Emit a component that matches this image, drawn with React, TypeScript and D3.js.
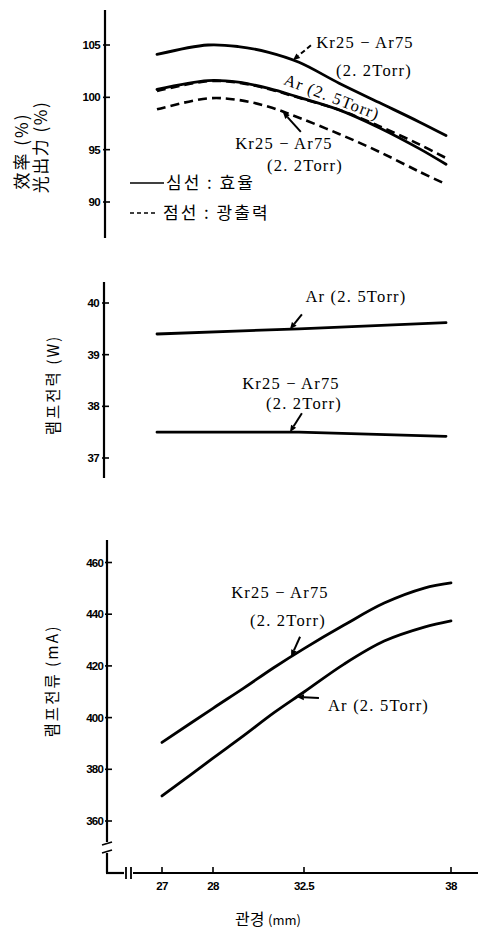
import React from 'react';
import * as d3 from 'd3';

// ---------- data ----------
const xTicks = [27, 28, 32.5, 38];
const xTickLabels = ['27', '28', '32.5', '38'];

// tube diameter samples (mm)
const sampleX = [27, 28, 29.5, 31, 32.5, 34, 35.5, 37, 38];

// top panel: efficiency (solid) and light output (dashed), %
const effKr = [104.1, 105.0, 104.85, 104.3, 103.35, 101.35, 99.5, 97.65, 96.35];
const effAr = [100.75, 101.6, 101.45, 100.85, 100.0, 98.8, 97.1, 95.1, 93.6];
const lightAr = [100.6, 101.55, 101.4, 100.8, 99.95, 98.8, 97.25, 95.5, 94.2];
const lightKr = [98.85, 99.9, 99.75, 99.1, 98.05, 96.5, 94.8, 92.9, 91.7];
const topTicks = [90, 95, 100, 105];

// middle panel: lamp power (W)
const powerX = [27, 32.5, 38];
const powerAr = [39.4, 39.5, 39.62];
const powerKr = [37.5, 37.5, 37.42];
const midTicks = [37, 38, 39, 40];

// bottom panel: lamp current (mA)
const currentKr = [390.4, 403.6, 411.3, 419.3, 426.7, 435.8, 444.3, 450.1, 452.1];
const currentAr = [369.7, 384.3, 392.9, 401.8, 409.9, 420.7, 429.6, 435.0, 437.4];
const botTicks = [360, 380, 400, 420, 440, 460];

// ---------- styles ----------
const SERIF = "'Liberation Serif', 'Times New Roman', serif";
const KR = "'Noto Sans CJK KR', 'Noto Sans CJK JP', sans-serif";
const TICK = "'Liberation Sans', 'DejaVu Sans', sans-serif";

function interp(xs: number[], ys: number[], x: number) {
  for (let i = 0; i < xs.length - 1; i++) {
    if (x >= xs[i] && x <= xs[i + 1]) {
      const t = (x - xs[i]) / (xs[i + 1] - xs[i]);
      return ys[i] + t * (ys[i + 1] - ys[i]);
    }
  }
  return ys[ys.length - 1];
}

function Arrow({ tip, dx, dy, dash }: { tip: [number, number]; dx: number; dy: number; dash?: string }) {
  const [tx, ty] = tip;
  const sx = tx + dx, sy = ty + dy;
  const ang = Math.atan2(ty - sy, tx - sx);
  const L = 7, Wd = 3;
  const bx = tx - L * Math.cos(ang), by = ty - L * Math.sin(ang);
  const px = -Math.sin(ang) * Wd, py = Math.cos(ang) * Wd;
  return (
    <g>
      <line x1={sx} y1={sy} x2={bx} y2={by} stroke="#000" strokeWidth={2} strokeDasharray={dash} />
      <polygon points={`${tx},${ty} ${bx + px},${by + py} ${bx - px},${by - py}`} fill="#000" />
    </g>
  );
}

function YAxis({ x, y0, y1, scale, ticks }: { x: number; y0: number; y1: number; scale: d3.ScaleLinear<number, number>; ticks: number[] }) {
  return (
    <g>
      <line x1={x} y1={y0} x2={x} y2={y1} stroke="#000" strokeWidth={2.2} />
      {ticks.map((t) => (
        <g key={t}>
          <line x1={x - 2} x2={x + 5} y1={scale(t)} y2={scale(t)} stroke="#000" strokeWidth={1.6} />
          <text x={x - 5} y={scale(t) + 4} textAnchor="end" fontFamily={TICK} fontWeight="bold" fontSize={11.5} letterSpacing={-0.6}>
            {t}
          </text>
        </g>
      ))}
    </g>
  );
}

export default function App() {
  const xBot = d3.scaleLinear().domain(xTicks).range([162, 213, 304, 451]);
  const xUp = d3.scaleLinear().domain(xTicks).range([157, 208, 299, 446]);

  const yTop = d3.scaleLinear().domain([90, 105]).range([202, 45]);
  const yMid = d3.scaleLinear().domain([37, 40]).range([458, 303]);
  const yBot = d3.scaleLinear().domain([360, 460]).range([821, 562.5]);

  const mkLine = (xs: number[], x: any, y: any, curve: any) =>
    d3.line<number>().x((_, i) => x(xs[i])).y((d) => y(d)).curve(curve);

  const smooth = d3.curveCatmullRom.alpha(0.5);
  const topLine = mkLine(sampleX, xUp, yTop, smooth);
  const midLine = mkLine(powerX, xUp, yMid, d3.curveLinear);
  const botLine = mkLine(sampleX, xBot, yBot, smooth);

  const solid = { fill: 'none', stroke: '#000', strokeWidth: 2.8, strokeLinecap: 'round' as const };
  const dashed = { ...solid, strokeWidth: 2.6, strokeDasharray: '9,5', strokeLinecap: 'butt' as const };

  const tipTopKr: [number, number] = [xUp(32.2), yTop(interp(sampleX, effKr, 32.2))];
  const tipTopKrD: [number, number] = [xUp(31.7), yTop(interp(sampleX, lightKr, 31.7))];
  const tipMidAr: [number, number] = [xUp(32.05), yMid(interp(powerX, powerAr, 32.05))];
  const tipMidKr: [number, number] = [xUp(32.05), yMid(interp(powerX, powerKr, 32.05))];
  const tipBotKr: [number, number] = [xBot(31.86), yBot(interp(sampleX, currentKr, 31.86))];
  const tipBotAr: [number, number] = [xBot(32.15), yBot(interp(sampleX, currentAr, 32.15))];

  const annot = { fontFamily: SERIF, fontSize: 16.5, letterSpacing: 1.2 };

  return (
    <svg width={484} height={930} style={{ position: 'absolute', left: 0, top: 0, background: '#fff' }}>
      <rect width={484} height={930} fill="#fff" />

      {/* ===== top panel ===== */}
      <YAxis x={105} y0={10} y1={238} scale={yTop} ticks={topTicks} />
      <text transform="translate(28,151) rotate(-90)" textAnchor="middle" fontFamily={KR} fontSize={17} letterSpacing={2}>
        效率 (%)
      </text>
      <text transform="translate(47,147) rotate(-90)" textAnchor="middle" fontFamily={KR} fontSize={17} letterSpacing={1.5}>
        光出力 (%)
      </text>

      <path d={topLine(effKr) || ''} {...solid} />
      <path d={topLine(effAr) || ''} {...solid} />
      <path d={topLine(lightAr) || ''} {...dashed} />
      <path d={topLine(lightKr) || ''} {...dashed} />

      <text x={365} y={48} textAnchor="middle" {...annot}>Kr25 − Ar75</text>
      <text x={374} y={76} textAnchor="middle" {...annot}>(2. 2Torr)</text>
      <Arrow tip={tipTopKr} dx={18} dy={-15} dash="5,3" />

      <text transform="translate(330,102) rotate(21)" textAnchor="middle" {...annot}>Ar (2. 5Torr)</text>

      <text x={284} y={149} textAnchor="middle" {...annot}>Kr25 − Ar75</text>
      <text x={305} y={171} textAnchor="middle" {...annot}>(2. 2Torr)</text>
      <Arrow tip={tipTopKrD} dx={18} dy={20} />

      {/* legend */}
      <line x1={130} x2={164} y1={183} y2={183} stroke="#000" strokeWidth={1.6} />
      <text x={166} y={189} fontFamily={KR} fontSize={17} letterSpacing={2}>심선 : 효율</text>
      <line x1={130} x2={155} y1={213} y2={213} stroke="#000" strokeWidth={1.6} strokeDasharray="4,3" />
      <text x={163} y={219} fontFamily={KR} fontSize={17} letterSpacing={2}>점선 : 광출력</text>

      {/* ===== middle panel ===== */}
      <YAxis x={104} y0={282} y1={478} scale={yMid} ticks={midTicks} />
      <text transform="translate(59,385) rotate(-90)" textAnchor="middle" fontFamily={KR} fontSize={15.5} letterSpacing={2}>
        램프전력 (W)
      </text>
      <path d={midLine(powerAr) || ''} {...solid} />
      <path d={midLine(powerKr) || ''} {...solid} />

      <text x={356} y={302} textAnchor="middle" {...annot}>Ar (2. 5Torr)</text>
      <Arrow tip={tipMidAr} dx={12} dy={-15} />
      <text x={291} y={389} textAnchor="middle" {...annot}>Kr25 − Ar75</text>
      <text x={304} y={409} textAnchor="middle" {...annot}>(2. 2Torr)</text>
      <Arrow tip={tipMidKr} dx={12} dy={-19} />

      {/* ===== bottom panel ===== */}
      <line x1={107} y1={540} x2={107} y2={842} stroke="#000" strokeWidth={2.2} />
      <line x1={107} y1={853} x2={107} y2={873} stroke="#000" strokeWidth={2.2} />
      <line x1={102} y1={845} x2={112} y2={842} stroke="#000" strokeWidth={1.6} />
      <line x1={102} y1={853} x2={112} y2={850} stroke="#000" strokeWidth={1.6} />
      {botTicks.map((t) => (
        <g key={t}>
          <line x1={105} x2={112} y1={yBot(t)} y2={yBot(t)} stroke="#000" strokeWidth={1.6} />
          <text x={103} y={yBot(t) + 4} textAnchor="end" fontFamily={TICK} fontWeight="bold" fontSize={11.5} letterSpacing={-0.8}>
            {t}
          </text>
        </g>
      ))}
      <text transform="translate(58,681) rotate(-90)" textAnchor="middle" fontFamily={KR} fontSize={15.5} letterSpacing={2}>
        램프전류 (mA)
      </text>

      {/* x axis */}
      <line x1={106} y1={873} x2={124} y2={873} stroke="#000" strokeWidth={2.2} />
      <line x1={133} y1={873} x2={478} y2={873} stroke="#000" strokeWidth={2.2} />
      <line x1={126} y1={867} x2={126} y2={879} stroke="#000" strokeWidth={1.8} />
      <line x1={131} y1={867} x2={131} y2={879} stroke="#000" strokeWidth={1.8} />
      {xTicks.map((t, i) => (
        <g key={t}>
          <line x1={xBot(t)} x2={xBot(t)} y1={867} y2={873} stroke="#000" strokeWidth={1.6} />
          <text x={xBot(t)} y={890} textAnchor="middle" fontFamily={TICK} fontWeight="bold" fontSize={11.5} letterSpacing={-0.6}>
            {xTickLabels[i]}
          </text>
        </g>
      ))}
      <text x={268} y={925} textAnchor="middle" fontFamily={KR} fontSize={16}>
        관경 <tspan fontSize={13}>(mm)</tspan>
      </text>

      <path d={botLine(currentKr) || ''} {...solid} />
      <path d={botLine(currentAr) || ''} {...solid} />

      <text x={280} y={598} textAnchor="middle" {...annot}>Kr25 − Ar75</text>
      <text x={288} y={626} textAnchor="middle" {...annot}>(2. 2Torr)</text>
      <Arrow tip={tipBotKr} dx={9} dy={-20} />
      <text x={328} y={711} textAnchor="start" {...annot}>Ar (2. 5Torr)</text>
      <Arrow tip={tipBotAr} dx={22} dy={1} />
    </svg>
  );
}
